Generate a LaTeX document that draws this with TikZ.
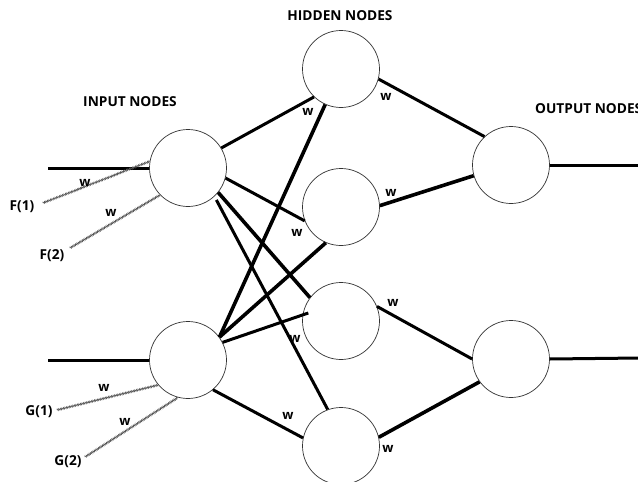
\documentclass[tikz,border=0pt]{standalone}
\usepackage{fontspec}
\setmainfont{Open Sans}
\usetikzlibrary{decorations.pathmorphing}
\begin{document}
\begin{tikzpicture}[x=1pt,y=-1pt,
  neuron/.style={circle,draw=black!80,line width=0.7pt,minimum size=77pt,inner sep=0pt},
  link/.style={line width=3pt,black},
  heavylink/.style={line width=3.6pt,black},
  feed/.style={draw=black!65,line width=0.6pt,decorate,
    decoration={zigzag,amplitude=0.9pt,segment length=1.6pt}},
  title/.style={font=\bfseries\fontsize{13.7}{16}\selectfont,inner sep=0pt},
  lbl/.style={font=\bfseries\fontsize{13.7}{16}\selectfont,inner sep=0pt},
  wt/.style={font=\bfseries\fontsize{13}{15}\selectfont,inner sep=0pt}]
\useasboundingbox (0,0) rectangle (638,482);

% layer titles
\node[title] (tin)  at (130,102) {INPUT NODES};
\node[title] (thid) at (340,16)  {HIDDEN NODES};
\node[title,anchor=west] (tout) at (535,109) {OUTPUT NODES};

% neurons
\node[neuron] (I1) at (188,168) {};
\node[neuron] (I2) at (188,360) {};
\node[neuron] (H1) at (341,69)  {};
\node[neuron] (H2) at (341,207) {};
\node[neuron] (H3) at (341,321) {};
\node[neuron] (H4) at (341,446) {};
\node[neuron] (O1) at (511,165) {};
\node[neuron] (O2) at (511,359) {};

% outer ends of the input and output lines
\coordinate (inA)  at (48,168);
\coordinate (inB)  at (48,360);
\coordinate (outA) at (640,165);
\coordinate (outB) at (640,358);

\draw[link] (inA) -- (I1.west);
\draw[link] (inB) -- (I2.west);
\draw[link] (O1.east) -- (outA);
\draw[link] (O2.east) -- (outB);

% input to hidden
\draw[link] (I1.31) -- (H1.226);
\draw[link] (I1.-15) -- (H2.201);
\draw[heavylink] (I1.-39) -- (H3.143);
\draw[link,shorten <=4pt] (I1.-47) -- (H4.110);
\draw[heavylink] (I2.36) -- (H1.246);
\draw[heavylink] (I2.36) -- (H2.247);
\draw[link,shorten >=-6pt] (I2.27) -- (H3.171);
\draw[link] (I2.-50) -- (H4.168);

% hidden to output
\draw[link] (H1.-15) -- (O1.133);
\draw[heavylink] (H2.2) -- (O1.196);
\draw[link] (H3.22) -- (O2.180);
\draw[heavylink] (H4.13) -- (O2.216);

% feature inputs
\node[lbl] (F1) at (22,207) {F(1)};
\node[lbl] (F2) at (52,256) {F(2)};
\node[lbl] (G1) at (39,412) {G(1)};
\node[lbl] (G2) at (68,462) {G(2)};
\coordinate (f1) at (43,203);
\coordinate (f2) at (70,248);
\coordinate (g1) at (57,410);
\coordinate (g2) at (85,457);
\draw[feed] (f1) -- (I1.170);
\draw[feed] (f2) -- (I1.224);
\draw[feed] (g1) -- (I2.220);
\draw[feed] (g2) -- (I2.255);

% weights
\node[wt] (w1)  at (85,183)  {w};
\node[wt] (w2)  at (111,213) {w};
\node[wt] (w3)  at (104,388) {w};
\node[wt] (w4)  at (125,422) {w};
\node[wt] (w5)  at (308,112) {w};
\node[wt] (w6)  at (386,97)  {w};
\node[wt] (w7)  at (297,233) {w};
\node[wt] (w8)  at (391,193) {w};
\node[wt] (w9)  at (295,339) {w};
\node[wt] (w10) at (393,303) {w};
\node[wt] (w11) at (288,416) {w};
\node[wt] (w12) at (388,449) {w};
\end{tikzpicture}
\end{document}
